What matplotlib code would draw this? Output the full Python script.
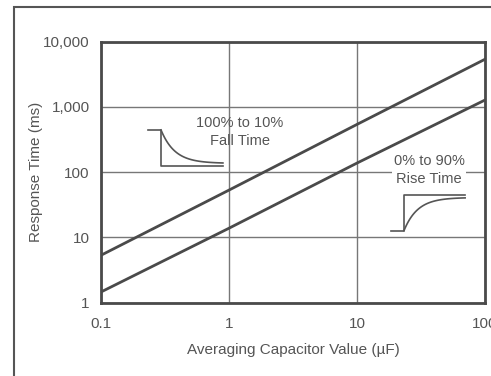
import numpy as np
import matplotlib.pyplot as plt
from matplotlib.patches import Rectangle

plt.rcParams['font.family'] = ['Liberation Sans', 'DejaVu Sans']

# data
cap_uF = [0.1, 1, 10, 100]
fall_ms = [5.3, 53, 540, 5400]
rise_ms = [1.45, 13.8, 138, 1280]
xticks = [0.1, 1, 10, 100]
xticklabels = ['0.1', '1', '10', '100']
yticks = [1, 10, 100, 1000, 10000]
yticklabels = ['1', '10', '100', '1,000', '10,000']

ink = '#4a4a4a'
txt = '#555555'

fig = plt.figure(figsize=(4.91, 3.76), dpi=100)
ax = fig.add_axes([0.205, 0.195, 0.783, 0.694])

ax.plot(cap_uF, fall_ms, color=ink, lw=2, zorder=3)
ax.plot(cap_uF, rise_ms, color=ink, lw=2, zorder=3)

ax.set_xscale('log')
ax.set_yscale('log')
ax.set_xlim(0.1, 100)
ax.set_ylim(1, 10000)
ax.set_xticks(xticks)
ax.set_xticklabels(xticklabels)
ax.set_yticks(yticks)
ax.set_yticklabels(yticklabels)
ax.minorticks_off()
ax.tick_params(length=0, labelsize=11, labelcolor=txt)
ax.tick_params(axis='x', pad=10)
ax.tick_params(axis='y', pad=8)
ax.grid(True, color='#777777', lw=1)
for s in ax.spines.values():
    s.set_color(ink)
    s.set_linewidth(2)

ax.set_xlabel('Averaging Capacitor Value (µF)', fontsize=11, color=txt, labelpad=9)
ax.set_ylabel('Response Time (ms)', fontsize=11, color=txt, labelpad=0)

# annotations
ax.text(0.3625, 0.654, '100% to 10%\nFall Time', transform=ax.transAxes,
        ha='center', va='center', fontsize=10.5, color=txt, linespacing=1.3)
ax.text(0.854, 0.508, '0% to 90%\nRise Time', transform=ax.transAxes,
        ha='center', va='center', fontsize=10.5, color=txt, linespacing=1.3,
        bbox=dict(facecolor='white', edgecolor='none', pad=1))

# little waveform icons
t = np.linspace(0, 1, 60)
x0, x1, x2, ytop, ybot = 0.123, 0.157, 0.318, 0.662, 0.524
ax.plot([x0, x1, x1, x2], [ytop, ytop, ybot, ybot], transform=ax.transAxes,
        color=txt, lw=1.2)
ax.plot(x1 + (x2 - x1) * t, ybot + 0.01 + (ytop - ybot - 0.01) * np.exp(-4.5 * t),
        transform=ax.transAxes, color=txt, lw=1.2)

x0, x1, x2, ybot, ytop = 0.755, 0.789, 0.948, 0.276, 0.413
ax.plot([x0, x1, x1, x2], [ybot, ybot, ytop, ytop], transform=ax.transAxes,
        color=txt, lw=1.2)
ax.plot(x1 + (x2 - x1) * t, ytop - 0.01 - (ytop - ybot - 0.01) * np.exp(-4.5 * t),
        transform=ax.transAxes, color=txt, lw=1.2)

# outer frame of the scanned figure
fig.add_artist(Rectangle((0.0285, -0.1), 1.2, 0.1 + 0.981, transform=fig.transFigure,
                         fill=False, edgecolor='#555555', lw=1.5, clip_on=False))

fig.savefig('out.png', dpi=100)
